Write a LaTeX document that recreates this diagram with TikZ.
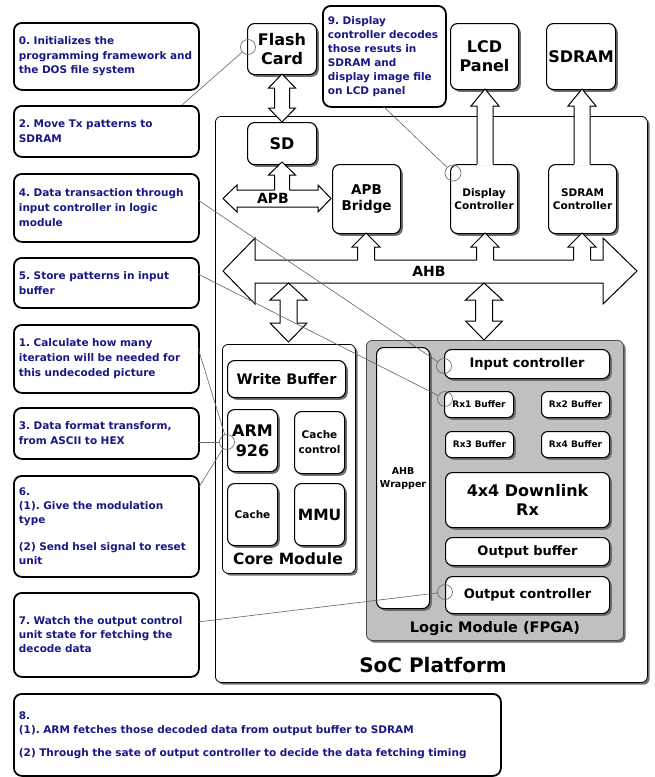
\documentclass[tikz,border=0pt]{standalone}
\usepackage{fontspec}
\setmainfont{DejaVu Sans}
\usetikzlibrary{shadows}
\definecolor{navy}{RGB}{24,24,135}
\definecolor{cline}{RGB}{100,100,100}
\definecolor{lmgray}{RGB}{192,192,192}
\definecolor{shad}{RGB}{110,110,110}
\newcommand\fs[2]{\fontsize{#1}{#2}\selectfont\bfseries\frenchspacing}
\tikzset{
 sh/.style={drop shadow={shadow xshift=2.2pt,shadow yshift=-2.2pt,fill=shad,opacity=1}},
 blk/.style={draw, line width=1.1pt, rounded corners=7pt, fill=white, sh, align=center, inner sep=0pt, anchor=north west},
 frame/.style={draw, line width=0.8pt, rounded corners=6pt, sh, anchor=north west, inner sep=0pt},
 cbox/.style={draw, line width=1.8pt, rounded corners=8pt, fill=white, anchor=north west, align=left, inner xsep=5pt, inner ysep=0pt, text=navy},
 cl/.style={draw=cline, line width=0.6pt},
 cc/.style={circle, draw=cline, line width=0.6pt, minimum size=15pt, inner sep=0pt},
 barrow/.style={draw, line width=1pt, line join=miter},
 lbl/.style={inner sep=0pt, align=center},
}
% vertical up arrow: cx, ybottom, ytop, head height, shaft half, head half
\newcommand\uparr[6]{%
 \fill[white] (#1-#5,#2+1.5) -- (#1-#5,#3+#4) -- (#1-#6,#3+#4) -- (#1,#3) -- (#1+#6,#3+#4) -- (#1+#5,#3+#4) -- (#1+#5,#2+1.5) -- cycle;
 \draw[barrow] (#1-#5,#2) -- (#1-#5,#3+#4) -- (#1-#6,#3+#4) -- (#1,#3) -- (#1+#6,#3+#4) -- (#1+#5,#3+#4) -- (#1+#5,#2);}
% vertical double arrow: cx, ytop, ybottom, top head h, bottom head h, shaft half, head half
\newcommand\vdarr[7]{%
 \draw[barrow, fill=white] (#1,#2) -- (#1+#7,#2+#4) -- (#1+#6,#2+#4) -- (#1+#6,#3-#5) -- (#1+#7,#3-#5) -- (#1,#3) -- (#1-#7,#3-#5) -- (#1-#6,#3-#5) -- (#1-#6,#2+#4) -- (#1-#7,#2+#4) -- cycle;}
\begin{document}
\begin{tikzpicture}[x=1pt,y=-1pt]
\useasboundingbox (0,0) rectangle (654,777);
% SoC platform
\node[frame, fill=white, minimum width=432pt, minimum height=566pt] (soc) at (215,116) {};
\node[lbl, font=\fs{20}{24}] (socl) at (433,665) {SoC Platform};
% top blocks
\node[blk, minimum width=69pt, minimum height=51pt, font=\fs{16}{19}] (flash) at (247,23) {Flash\\Card};
\node[blk, minimum width=69pt, minimum height=42pt, font=\fs{16}{19}] (sd) at (247,122) {SD};
\node[blk, minimum width=68pt, minimum height=66pt, font=\fs{16}{19}] (lcd) at (450,23) {LCD\\Panel};
\node[blk, minimum width=69pt, minimum height=66pt, font=\fs{16}{19}] (sdram) at (546,23) {SDRAM};
\node[blk, minimum width=68pt, minimum height=69pt, font=\fs{13.5}{16}] (apbb) at (332,164) {APB\\Bridge};
\node[blk, minimum width=67pt, minimum height=69pt, font=\fs{10.5}{13}] (disp) at (450,164) {Display\\Controller};
\node[blk, minimum width=68pt, minimum height=69pt, font=\fs{10.5}{13}] (sdc) at (548,164) {SDRAM\\Controller};
% core module
\node[frame, fill=white, minimum width=133pt, minimum height=229pt] (core) at (222,344) {};
\node[lbl, font=\fs{15.5}{18}] (corel) at (288,559) {Core Module};
\node[blk, minimum width=118pt, minimum height=37pt, font=\fs{14.5}{17}] (wb) at (227,360) {Write Buffer};
\node[blk, minimum width=50pt, minimum height=62pt, font=\fs{16}{20}] (arm) at (227,409) {ARM\\926};
\node[blk, minimum width=50pt, minimum height=62pt, font=\fs{10.5}{15}] (cctl) at (294,411) {Cache\\control};
\node[blk, minimum width=50pt, minimum height=62pt, font=\fs{10.5}{15}] (cache) at (227,483) {Cache};
\node[blk, minimum width=50pt, minimum height=62pt, font=\fs{15.5}{18}] (mmu) at (294,483) {MMU};
% logic module
\node[frame, fill=lmgray, draw=black!70, minimum width=257pt, minimum height=300pt] (logic) at (366,340) {};
\node[lbl, font=\fs{14.5}{17}] (logicl) at (495,629) {Logic Module (FPGA)};
\node[blk, minimum width=53pt, minimum height=261pt, font=\fs{9.5}{13}] (wrap) at (376,347) {AHB\\Wrapper};
\node[blk, minimum width=165pt, minimum height=29pt, font=\fs{13}{16}] (inc) at (444,349) {Input controller};
\node[blk, minimum width=69pt, minimum height=26pt, rounded corners=6pt, font=\fs{9}{11}] (rx1) at (444,391) {Rx1 Buffer};
\node[blk, minimum width=68pt, minimum height=26pt, rounded corners=6pt, font=\fs{9}{11}] (rx2) at (541,391) {Rx2 Buffer};
\node[blk, minimum width=68pt, minimum height=26pt, rounded corners=6pt, font=\fs{9}{11}] (rx3) at (445,431) {Rx3 Buffer};
\node[blk, minimum width=68pt, minimum height=26pt, rounded corners=6pt, font=\fs{9}{11}] (rx4) at (541,431) {Rx4 Buffer};
\node[blk, minimum width=164pt, minimum height=55pt, font=\fs{16}{19}] (dl) at (445,472) {4x4 Downlink\\Rx};
\node[blk, minimum width=164pt, minimum height=28pt, font=\fs{13}{16}] (ob) at (445,537) {Output buffer};
\node[blk, minimum width=164pt, minimum height=37pt, font=\fs{13}{16}] (oc) at (445,576) {Output controller};
% block arrows
\draw[barrow, fill=white] (223,271) -- (255,238) -- (255,260) -- (603,260) -- (603,238) -- (637,271) -- (603,304) -- (603,283) -- (255,283) -- (255,304) -- cycle;
\node[lbl, font=\fs{14}{16}] (ahbl) at (429,271) {AHB};
\draw[barrow, fill=white] (223,198.5) -- (237,185) -- (237,190) -- (318,190) -- (318,185) -- (331,198.5) -- (318,212) -- (318,207) -- (237,207) -- (237,212) -- cycle;
\uparr{282}{190}{162}{13}{7.5}{13.5}
\node[lbl, font=\fs{14}{16}] (apbl) at (273,198.5) {APB};
\vdarr{282}{74}{122}{14}{14}{7.5}{13.5}
\uparr{485}{164}{89}{17}{8}{14}
\uparr{582}{164}{89}{17}{8}{14}
\uparr{366}{260}{233}{14}{8.5}{14}
\uparr{485}{260}{233}{14}{8.5}{14}
\uparr{582}{260}{233}{14}{8.5}{14}
\vdarr{288.5}{283}{342}{17}{19}{8.5}{18.5}
\vdarr{484}{283}{340}{17}{19}{8.5}{18.5}
% callout boxes
\node[cbox, text width=175pt, minimum height=67pt, font=\fs{10.5}{14.5}] (b0) at (13,22) {0. Initializes the\\programming framework and\\the DOS file system};
\node[cbox, text width=175pt, minimum height=51pt, font=\fs{10.5}{14.5}] (b2) at (13,105) {2. Move Tx patterns to\\SDRAM};
\node[cbox, text width=175pt, minimum height=68pt, font=\fs{10.5}{15}] (b4) at (13,173) {4. Data transaction through\\input controller in logic\\module};
\node[cbox, text width=175pt, minimum height=50pt, font=\fs{10.5}{15}] (b5) at (13,257) {5. Store patterns in input\\buffer};
\node[cbox, text width=175pt, minimum height=68pt, font=\fs{10.5}{15}] (b1) at (13,324) {1. Calculate how many\\iteration will be needed for\\this undecoded picture};
\node[cbox, text width=175pt, minimum height=51pt, font=\fs{10.5}{15}] (b3) at (13,407) {3. Data format transform,\\from ASCII to HEX};
\node[cbox, text width=175pt, minimum height=101pt, font=\fs{10.5}{14}] (b6) at (13,475) {6.\\(1). Give the modulation\\type\\[13pt](2) Send hsel signal to reset\\unit};
\node[cbox, text width=175pt, minimum height=84pt, font=\fs{10.5}{14}] (b7) at (13,592) {7. Watch the output control\\unit state for fetching the\\decode data};
\node[cbox, text width=477pt, minimum height=82pt, font=\fs{10.5}{14}] (b8) at (13,693) {8.\\(1). ARM fetches those decoded data from output buffer to SDRAM\\[9pt](2) Through the sate of output controller to decide the data fetching timing};
\node[cbox, text width=113pt, minimum height=101pt, font=\fs{10.5}{14}] (b9) at (322,5) {9. Display\\controller decodes\\those resuts in\\SDRAM and\\display image file\\on LCD panel};
% callout circles and lines
\node[cc] (cflash) at (248,47) {};
\node[cc, minimum size=16pt] (cdisp) at (453,173) {};
\node[cc] (cin) at (444,366) {};
\node[cc] (crx) at (445,399) {};
\node[cc] (carm) at (227,442) {};
\node[cc] (cout) at (445,592) {};
\coordinate (p2) at (182,105);
\coordinate (p9) at (383,106);
\coordinate (p4) at (198,200);
\coordinate (p5) at (198,274);
\coordinate (p1) at (198,348);
\coordinate (p3) at (198,442);
\coordinate (p6) at (199,487);
\coordinate (p7) at (198,622);
\draw[cl] (p2) -- (cflash);
\draw[cl] (p9) -- (cdisp);
\draw[cl] (p4) -- (cin);
\draw[cl] (p5) -- (crx);
\draw[cl] (p1) -- (carm);
\draw[cl] (p3) -- (carm);
\draw[cl] (p6) -- (carm);
\draw[cl] (p7) -- (cout);
\end{tikzpicture}
\end{document}
